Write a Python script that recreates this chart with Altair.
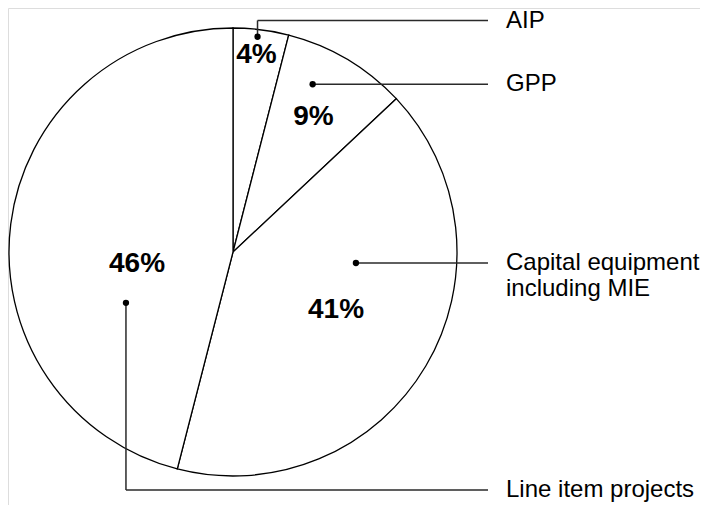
import math
import altair as alt
import pandas as pd

# ---- data ----
categories = ["AIP", "GPP", "Capital equipment including MIE", "Line item projects"]
label_lines = [["AIP"], ["GPP"], ["Capital equipment", "including MIE"], ["Line item projects"]]
percents = [4, 9, 41, 46]

# ---- layout (pie units: centre = 0,0, radius = 1) ----
R_PX = 224
W, H = 692, 497
X_DOM = [(8 - 233) / R_PX, (700 - 233) / R_PX]
Y_DOM = [(252 - 505) / R_PX, (252 - 8) / R_PX]

# percentage label placement: (radius fraction, angle in degrees clockwise from top)
pct_pos = [(0.884, 6.8), (0.70, 30.9), (0.527, 119.2), (0.432, 262.6)]
# leader dot placement
dot_pos = [(0.967, 6.5), (0.829, 25.4), (0.551, 95.1), (0.529, 244.6)]
# elbow height of leader (None = straight horizontal)
elbow_y = [231.5 / R_PX, None, None, -238 / R_PX]
LEADER_END_X = 255 / R_PX
TEXT_X = 273 / R_PX
LINE_H = 26 / R_PX


def polar(r, a):
    rad = math.radians(a)
    return r * math.sin(rad), r * math.cos(rad)


pie_df = pd.DataFrame({"cat": categories, "pct": percents, "idx": range(len(categories))})

pct_rows, dot_rows, seg_rows, txt_rows = [], [], [], []
for i, cat in enumerate(categories):
    px, py = polar(*pct_pos[i])
    pct_rows.append({"x": px, "y": py, "t": f"{percents[i]}%"})
    dx, dy = polar(*dot_pos[i])
    dot_rows.append({"x": dx, "y": dy})
    if elbow_y[i] is None:
        ly = dy
        seg_rows.append({"x": dx, "y": dy, "x2": LEADER_END_X, "y2": dy})
    else:
        ly = elbow_y[i]
        seg_rows.append({"x": dx, "y": dy, "x2": dx, "y2": ly})
        seg_rows.append({"x": dx, "y": ly, "x2": LEADER_END_X, "y2": ly})
    for k, line in enumerate(label_lines[i]):
        txt_rows.append({"x": TEXT_X, "y": ly - k * LINE_H, "t": line})

xs = alt.Scale(domain=X_DOM, nice=False, zero=False)
ys = alt.Scale(domain=Y_DOM, nice=False, zero=False)
noax = None

pie = alt.Chart(pie_df).mark_arc(
    radius=R_PX, fill="white", stroke="black", strokeWidth=1.3
).encode(
    theta=alt.Theta("pct:Q", stack=True),
    order=alt.Order("idx:O"),
    detail="cat:N",
    x=alt.datum(0, scale=xs, axis=noax),
    y=alt.datum(0, scale=ys, axis=noax),
)

segs = alt.Chart(pd.DataFrame(seg_rows)).mark_rule(color="#2a2a2a", strokeWidth=1.5).encode(
    x=alt.X("x:Q", scale=xs, axis=noax),
    y=alt.Y("y:Q", scale=ys, axis=noax),
    x2="x2:Q",
    y2="y2:Q",
)

dots = alt.Chart(pd.DataFrame(dot_rows)).mark_circle(size=40, color="black", opacity=1).encode(
    x=alt.X("x:Q", scale=xs, axis=noax),
    y=alt.Y("y:Q", scale=ys, axis=noax),
)

pct_text = alt.Chart(pd.DataFrame(pct_rows)).mark_text(
    font="Liberation Sans", fontSize=28, fontWeight="bold", color="black",
    align="center", baseline="middle"
).encode(
    x=alt.X("x:Q", scale=xs, axis=noax),
    y=alt.Y("y:Q", scale=ys, axis=noax),
    text="t:N",
)

cat_text = alt.Chart(pd.DataFrame(txt_rows)).mark_text(
    font="Liberation Sans", fontSize=24, color="black",
    align="left", baseline="middle"
).encode(
    x=alt.X("x:Q", scale=xs, axis=noax),
    y=alt.Y("y:Q", scale=ys, axis=noax),
    text="t:N",
)

chart = alt.layer(pie, segs, dots, pct_text, cat_text).properties(
    width=W, height=H, padding=0, autosize=alt.AutoSizeParams(type="none")
).configure_view(stroke=None).configure(background="white")

chart.save("out.html", embed_options={"renderer": "svg", "actions": False})
